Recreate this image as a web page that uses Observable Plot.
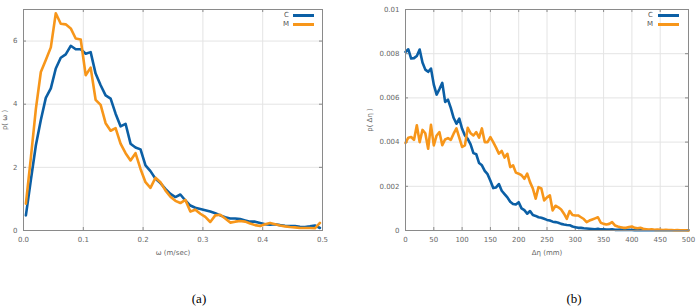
<!DOCTYPE html>
<html>
<head>
<meta charset="utf-8">
<script src="https://cdn.jsdelivr.net/npm/d3@7"></script>
<script src="https://cdn.jsdelivr.net/npm/@observablehq/plot@0.6"></script>
<style>
  html, body { margin: 0; padding: 0; background: #fff; }
  #wrap { position: relative; width: 698px; height: 308px; overflow: hidden; background: #fff; }
  .panel { position: absolute; top: 0; }
  .leg { position: absolute; font: 7px "DejaVu Sans", sans-serif; color: #555; }
  .legline { position: absolute; height: 3px; }
  .cap { position: absolute; top: 291px; font: 13px "Liberation Serif", serif; color: #000; transform: translateX(-50%); }
</style>
</head>
<body>
<div id="wrap"></div>
<script>
// ---- Panel (a): p(ω) vs ω (m/sec) ----
const omega = [0.004,0.0123,0.0207,0.029,0.0373,0.0457,0.054,0.0623,0.0706,0.079,
  0.0873,0.0957,0.104,0.1123,0.1206,0.129,0.1373,0.1457,0.154,0.1623,
  0.1707,0.179,0.1873,0.1957,0.204,0.2123,0.2207,0.229,0.2373,0.2457,
  0.254,0.2623,0.2707,0.279,0.2873,0.2957,0.304,0.3123,0.3207,0.329,
  0.3373,0.3457,0.354,0.3623,0.3707,0.379,0.3873,0.3957,0.404,0.4123,
  0.4207,0.429,0.4373,0.4457,0.454,0.4623,0.4707,0.479,0.4873,0.4957];
const pOmegaC = [0.48,1.6,2.7,3.5,4.2,4.5,5.13,5.47,5.58,5.85,
  5.74,5.74,5.6,5.65,4.97,4.6,4.28,4.18,3.7,3.3,
  3.38,2.75,2.63,2.57,2.06,1.88,1.64,1.5,1.32,1.16,
  1.06,1.14,0.95,0.79,0.72,0.68,0.64,0.6,0.55,0.48,
  0.42,0.38,0.38,0.36,0.32,0.28,0.28,0.24,0.2,0.18,
  0.2,0.17,0.15,0.14,0.14,0.12,0.11,0.13,0.16,0.08];
const pOmegaM = [0.85,2.3,3.85,5.02,5.4,5.8,6.88,6.55,6.53,6.4,
  6.08,6.05,4.92,5.16,4.14,3.98,3.4,3.16,3.24,2.75,
  2.45,2.22,2.45,1.95,1.53,1.35,1.67,1.53,1.27,1.07,
  0.94,0.87,0.97,0.6,0.66,0.53,0.43,0.27,0.48,0.5,
  0.38,0.25,0.28,0.3,0.28,0.22,0.17,0.14,0.2,0.24,
  0.2,0.16,0.13,0.11,0.1,0.08,0.08,0.08,0.07,0.24];
const xTicksA = [0, 0.1, 0.2, 0.3, 0.4, 0.5];
const yTicksA = [0, 2, 4, 6];
const yGridA = [0, 2, 4, 6, 7];

// ---- Panel (b): p(Δη) vs Δη (mm) ----
const deta = [0,5,10,15,20,25,30,35,40,45,50,55,60,65,70,75,80,85,90,95,
  100,105,110,115,120,125,130,135,140,145,150,155,160,165,170,175,180,185,190,195,
  200,205,210,215,220,225,230,235,240,245,250,255,260,265,270,275,280,285,290,295,
  300,305,310,315,320,325,330,335,340,345,350,355,360,365,370,375,380,385,390,395,
  400,405,410,415,420,425,430,435,440,445,450,455,460,465,470,475,480,485,490,495,500];
const pDetaC = [0.00808,0.0082,0.00778,0.0078,0.0079,0.00819,0.0076,0.00728,0.00718,0.00733,
  0.0066,0.00615,0.0064,0.00668,0.00582,0.00592,0.00555,0.0051,0.00483,0.00506,
  0.0046,0.0043,0.00415,0.0039,0.0035,0.00345,0.00305,0.00295,0.0027,0.00255,
  0.00225,0.00192,0.00195,0.0021,0.0018,0.00165,0.0015,0.0013,0.0012,0.00118,
  0.00128,0.001,0.00092,0.00076,0.00088,0.0007,0.00066,0.0006,0.00058,0.00053,
  0.00048,0.00045,0.0004,0.00038,0.00035,0.0003,0.00027,0.00025,0.00024,0.00018,
  0.00015,0.00012,0.00012,0.0001,0.00009,0.00008,0.00007,0.00006,0.00008,0.00005,
  0.00006,0.00004,0.00004,0.00005,0.00003,0.00003,0.00004,0.00002,0.00002,0.00003,
  0.00002,0.00001,0.00001,0.00001,0.00001,0.00001,0.00001,0.00001,0.00001,0.00001,
  0.00001,0.00001,0.00001,0.00001,0.00001,0.00001,0.00001,0.00001,0.00001,0.00001,0.00001];
const pDetaM = [0.00396,0.0042,0.00423,0.0041,0.00476,0.004,0.00455,0.0044,0.0037,0.00478,
  0.00385,0.0043,0.00445,0.00386,0.00412,0.00418,0.0041,0.00438,0.00462,0.0042,
  0.00378,0.00385,0.00465,0.0044,0.0043,0.00445,0.0042,0.00462,0.004,0.004,
  0.00423,0.004,0.00375,0.00348,0.0036,0.0033,0.00347,0.00287,0.00295,0.00262,
  0.00257,0.0025,0.00234,0.00257,0.00219,0.0019,0.00144,0.00196,0.0019,0.00136,
  0.0015,0.00159,0.00091,0.00112,0.00105,0.00095,0.00076,0.00053,0.00088,0.0007,
  0.00068,0.00068,0.0006,0.00052,0.00038,0.00045,0.0005,0.00055,0.0006,0.00035,
  0.0003,0.00027,0.0003,0.00038,0.00023,0.00018,0.00015,0.00012,0.00012,0.00016,
  0.00018,0.00012,0.0001,0.00012,0.00008,0.00006,0.00004,0.00005,0.00003,0.00004,
  0.00003,0.00002,0.00003,0.00002,0.00002,0.00001,0.00002,0.00001,0.00001,0.00001,0];
const xTicksB = [0,50,100,150,200,250,300,350,400,450,500];
const yTicksB = [0,0.002,0.004,0.006,0.008,0.01];

const seriesNames = ["C", "M"];
const colors = ["#0b5fa5", "#f7961a"];

const frameColor = "#8a8a8a";
const gridColor = "#e4e4e4";

function panel({xs, ys, xDomain, yDomain, xTicks, yTicks, yGrid, xLabel, yLabel, yFormat,
                width, height, marginLeft, marginRight, marginTop, marginBottom, yLabelOffset}) {
  const fw = width - marginLeft - marginRight;
  const fh = height - marginTop - marginBottom;
  const rows = [];
  ys.forEach((arr, s) => arr.forEach((v, i) => rows.push({x: xs[i], y: v, s: seriesNames[s]})));
  return Plot.plot({
    width, height, marginLeft, marginRight, marginTop, marginBottom,
    style: {fontFamily: "DejaVu Sans, sans-serif", fontSize: "7px", color: "#666", background: "transparent", overflow: "visible"},
    x: {domain: xDomain},
    y: {domain: yDomain},
    color: {domain: seriesNames, range: colors},
    marks: [
      Plot.gridX(xTicks, {stroke: gridColor, strokeOpacity: 1}),
      Plot.gridY(yGrid, {stroke: gridColor, strokeOpacity: 1}),
      Plot.tickX(xTicks, {x: d => d, stroke: frameColor, insetTop: fh - 3}),
      Plot.tickX(xTicks, {x: d => d, stroke: frameColor, insetBottom: fh - 3}),
      Plot.tickY(yTicks, {y: d => d, stroke: frameColor, insetRight: fw - 3}),
      Plot.tickY(yTicks, {y: d => d, stroke: frameColor, insetLeft: fw - 3}),
      Plot.axisX(xTicks, {tickSize: 0, tickPadding: 7, label: xLabel, labelAnchor: "center", labelArrow: "none", labelOffset: 24, fill: "#666"}),
      Plot.axisY(yTicks, {tickSize: 0, tickPadding: 6, tickFormat: yFormat, label: yLabel, labelAnchor: "center", labelArrow: "none", labelOffset: yLabelOffset, fill: "#666"}),
      Plot.line(rows, {x: "x", y: "y", z: "s", stroke: "s", strokeWidth: 2.6, strokeLinejoin: "round"}),
      Plot.frame({stroke: frameColor, strokeWidth: 1})
    ]
  });
}

const wrap = document.getElementById("wrap");

const svgA = panel({
  xs: omega, ys: [pOmegaC, pOmegaM], xDomain: [0, 0.5], yDomain: [0, 7],
  xTicks: xTicksA, yTicks: yTicksA, yGrid: yGridA, xLabel: "ω (m/sec)", yLabel: "p( ω )",
  yFormat: d => String(d),
  width: 340, height: 262, marginLeft: 23, marginRight: 18, marginTop: 9, marginBottom: 32, yLabelOffset: 21
});
svgA.classList.add("panel"); svgA.style.left = "0px";
wrap.appendChild(svgA);

const svgB = panel({
  xs: deta, ys: [pDetaC, pDetaM], xDomain: [0, 500], yDomain: [0, 0.01],
  xTicks: xTicksB, yTicks: yTicksB, yGrid: yTicksB, xLabel: "Δη (mm)", yLabel: "p( Δη )",
  yFormat: d => (d === 0 ? "0" : String(+d.toFixed(3))),
  width: 348, height: 262, marginLeft: 55, marginRight: 10, marginTop: 9, marginBottom: 32, yLabelOffset: 38
});
svgB.classList.add("panel"); svgB.style.left = "350px";
wrap.appendChild(svgB);

// legends (HTML overlay)
function legend(textRight, lineLeft, lineRight) {
  seriesNames.forEach((name, i) => {
    const y = 15.5 + i * 8.5;
    const t = document.createElement("div");
    t.className = "leg"; t.textContent = name;
    t.style.right = (698 - textRight) + "px"; t.style.top = (y - 4.5) + "px";
    wrap.appendChild(t);
    const l = document.createElement("div");
    l.className = "legline"; l.style.background = colors[i];
    l.style.left = lineLeft + "px"; l.style.width = (lineRight - lineLeft) + "px"; l.style.top = (y - 1.5) + "px";
    wrap.appendChild(l);
  });
}
legend(289, 293, 314);
legend(653, 658, 679);

// captions
[["(a)", 199], ["(b)", 574]].forEach(([txt, x]) => {
  const c = document.createElement("div");
  c.className = "cap"; c.textContent = txt; c.style.left = x + "px";
  wrap.appendChild(c);
});
</script>
</body>
</html>
